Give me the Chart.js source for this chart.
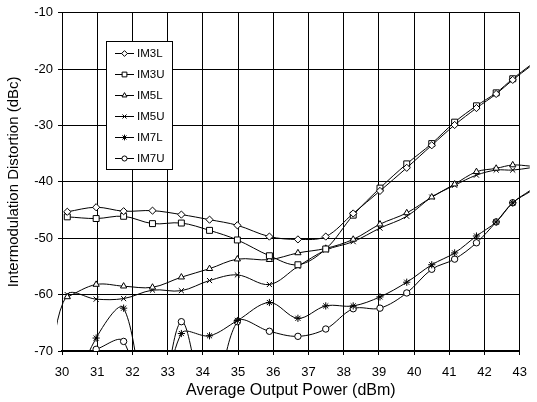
<!DOCTYPE html>
<html>
<head>
<meta charset="utf-8">
<script src="https://cdn.jsdelivr.net/npm/chart.js@4.4.1/dist/chart.umd.min.js"></script>
<style>
  body { margin: 0; background: #fff; }
  canvas { display: block; }
</style>
</head>
<body>
<canvas id="imdChart" width="537" height="402"></canvas>
<script>
// Measured points, average output power (dBm)
const powerDbm = [29.6, 30.15, 30.97, 31.75, 32.57, 33.39, 34.19, 34.98, 35.89, 36.7, 37.49, 38.27, 39.03, 39.79, 40.5, 41.15, 41.77, 42.33, 42.8, 43.3];

// Intermodulation distortion (dBc) for each product
const im3L = [null, -45.3, -44.5, -45.2, -45.1, -45.8, -46.7, -47.7, -49.7, -50.2, -49.7, -45.6, -41.6, -37.5, -33.5, -29.9, -26.9, -24.4, -21.9, -19.5];
const im3U = [null, -46.2, -46.5, -46.1, -47.4, -47.3, -48.6, -50.3, -53.1, -54.7, -51.9, -45.9, -41.1, -36.8, -33.2, -29.4, -26.5, -24.2, -21.7, -19.3];
const im5L = [null, -60.4, -58.2, -58.5, -58.7, -56.9, -55.4, -53.7, -53.8, -52.6, -51.8, -50.2, -47.5, -45.5, -42.7, -40.4, -38.2, -37.6, -37.0, -37.2];
const im5U = [-74, -60.0, -60.8, -60.7, -59.2, -59.3, -57.5, -56.5, -58.2, -55.0, -52.1, -50.6, -48.2, -46.1, -42.7, -40.6, -38.8, -37.9, -37.9, -37.5];
const im7L = [null, -80, -67.7, -62.4, -86, -66.9, -67.3, -64.6, -61.4, -64.2, -62.0, -62.0, -60.4, -57.8, -54.7, -52.6, -49.6, -47.1, -43.7, -41.5];
const im7U = [null, -71.5, -69.7, -68.3, -86, -64.8, -82, -64.8, -66.5, -67.4, -66.1, -62.5, -62.4, -59.7, -55.5, -53.7, -50.8, -47.1, -43.7, -41.7];

const seriesNames = ['IM3L', 'IM3U', 'IM5L', 'IM5U', 'IM7L', 'IM7U'];
const seriesValues = [im3L, im3U, im5L, im5U, im7L, im7U];
const markerStyles = ['rectRot', 'rect', 'triangle', 'crossRot', 'star', 'circle'];
const markerSizes = [3.6, 4.2, 3.6, 3.6, 3.6, 3.2];

// Function to pair x and y values, skipping missing ones
function toPoints(values) {
    const points = [];
    values.forEach((v, i) => {
        if (v !== null) points.push({ x: powerDbm[i], y: v });
    });
    return points;
}

const datasets = seriesNames.map((name, i) => ({
    label: name,
    data: toPoints(seriesValues[i]),
    borderColor: '#000',
    borderWidth: 1,
    pointStyle: markerStyles[i],
    pointRadius: markerSizes[i],
    pointBackgroundColor: '#fff',
    pointBorderColor: '#000',
    pointBorderWidth: 1,
    tension: 0.35,
    clip: { left: 5, top: 0, right: 10, bottom: 0 }
}));

// Legend box drawn inside the plot like the original
const boxLegend = {
    id: 'boxLegend',
    afterDatasetsDraw(chart) {
        const ctx = chart.ctx;
        ctx.save();
        ctx.fillStyle = '#fff';
        ctx.strokeStyle = '#000';
        ctx.lineWidth = 1;
        ctx.fillRect(106, 41, 66, 128);
        ctx.strokeRect(106.5, 41.5, 66, 128);
        ctx.font = '11.5px "Liberation Sans", Arial, sans-serif';
        ctx.textBaseline = 'middle';
        chart.data.datasets.forEach((ds, i) => {
            const y = Math.round(52.7 + i * 21.1) + 0.5;
            ctx.beginPath();
            ctx.moveTo(115, y);
            ctx.lineTo(134, y);
            ctx.strokeStyle = '#000';
            ctx.stroke();
            ctx.fillStyle = '#fff';
            Chart.helpers.drawPoint(ctx, {
                pointStyle: ds.pointStyle,
                radius: ds.pointRadius * 0.8,
                borderWidth: 1
            }, 124.5, y);
            ctx.fillStyle = '#000';
            ctx.fillText(ds.label, 137, y + 0.5);
        });
        ctx.restore();
    }
};

const ctx = document.getElementById('imdChart').getContext('2d');
const imdChart = new Chart(ctx, {
    type: 'line',
    data: { datasets: datasets },
    options: {
        responsive: false,
        animation: false,
        devicePixelRatio: 1,
        layout: { padding: { top: 9, right: 8, left: 0, bottom: 0 } },
        elements: { line: { capBezierPoints: false } },
        scales: {
            x: {
                type: 'linear',
                min: 30,
                max: 43,
                afterFit: (scale) => { scale.height = 51; },
                ticks: {
                    stepSize: 1,
                    color: '#000',
                    padding: 10,
                    font: { family: '"Liberation Sans", Arial, sans-serif', size: 13 }
                },
                grid: { color: '#000', lineWidth: 1, tickLength: 4, tickColor: '#000' },
                border: { color: '#000', width: 2 },
                title: {
                    display: true,
                    text: 'Average Output Power (dBm)',
                    color: '#000',
                    padding: { top: 0, bottom: 2 },
                    font: { family: '"Liberation Sans", Arial, sans-serif', size: 16 }
                }
            },
            y: {
                min: -70,
                max: -10,
                afterFit: (scale) => { scale.width = 62; },
                ticks: {
                    stepSize: 10,
                    color: '#000',
                    padding: 5,
                    font: { family: '"Liberation Sans", Arial, sans-serif', size: 13 }
                },
                grid: { color: '#000', lineWidth: 1, tickLength: 4, tickColor: '#000' },
                border: { color: '#000', width: 1 },
                title: {
                    display: true,
                    text: 'Intermodulation Distortion (dBc)',
                    color: '#000',
                    padding: { top: 5, bottom: 0 },
                    font: { family: '"Liberation Sans", Arial, sans-serif', size: 15 }
                }
            }
        },
        plugins: {
            legend: { display: false },
            tooltip: { enabled: false }
        }
    },
    plugins: [boxLegend]
});
</script>
</body>
</html>
